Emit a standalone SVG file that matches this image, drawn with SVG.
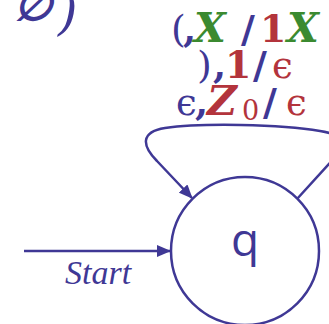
<svg xmlns="http://www.w3.org/2000/svg" width="329" height="324" viewBox="0 0 329 324">
<defs>
<style>
.b{fill:#3f3895}
.r{fill:#b3343c}
.g{fill:#3b8a30}
.m{font-family:"DejaVu Serif",serif;font-size:38px}
.e{font-size:37px}
.bi{font-weight:bold;font-style:italic;font-size:41px}
.bo{font-weight:bold}
.ln{fill:none;stroke:#3f3895;stroke-width:2.5}
</style>
<marker id="ah" markerWidth="14" markerHeight="12" refX="13" refY="6" orient="auto" markerUnits="userSpaceOnUse">
<path d="M0,0 L14,6 L0,12 Z" fill="#3f3895"/>
</marker>
</defs>
<text y="20" class="b" font-family="DejaVu Serif,serif" font-style="italic" font-weight="bold" font-size="44"><tspan x="14">∅</tspan><tspan x="58" y="29" font-weight="normal" font-size="50">)</tspan></text>
<g id="connectors">
<path class="ln" d="M24,251 L170,251" marker-end="url(#ah)"/>
<path class="ln" d="M297,199 L338,154 Q352,136 320,131 C280,124 200,123 165,128 C140,132 142,146 157,161 L192,198" marker-end="url(#ah)"/>
</g>
<g id="q">
<circle cx="245" cy="251" r="74" class="ln"/>
<text x="245" y="256" class="b" text-anchor="middle" font-family="Open Sans,sans-serif" font-size="46">q</text>
</g>
<text x="65" y="284" class="b" font-family="Liberation Serif,serif" font-style="italic" font-size="34">Start</text>
<g id="label">
<text y="42" class="m"><tspan x="171" class="b">(</tspan><tspan x="183" class="b bo">,</tspan><tspan x="194" class="g bi">X</tspan><tspan x="241" class="b bo">/</tspan><tspan x="260" class="r bo">1</tspan><tspan x="287" class="g bi">X</tspan></text>
<text y="78" class="m"><tspan x="197" class="b">)</tspan><tspan x="213" class="b bo">,</tspan><tspan x="225" class="r bo">1</tspan><tspan x="253" class="b bo">/</tspan><tspan x="272" class="r e">ϵ</tspan></text>
<text y="115" class="m"><tspan x="176" class="b e">ϵ</tspan><tspan x="195" class="b bo">,</tspan><tspan x="207" class="r bi">Z</tspan><tspan x="242" y="120" class="r" font-size="27">0</tspan><tspan x="263" y="115" class="b bo">/</tspan><tspan x="286" class="r e">ϵ</tspan></text>
</g>
</svg>
